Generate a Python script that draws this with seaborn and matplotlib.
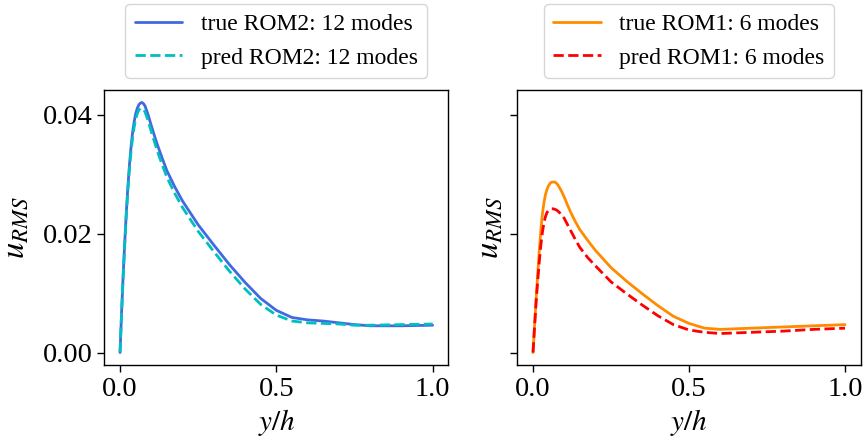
import numpy as np
import pandas as pd
import matplotlib
matplotlib.use("Agg")
import matplotlib.pyplot as plt
import seaborn as sns

# ---- data ----
y_h = [0, 0.005, 0.01, 0.015, 0.02, 0.025, 0.03, 0.035, 0.04, 0.045, 0.05,
       0.055, 0.06, 0.065, 0.07, 0.075, 0.08, 0.09, 0.10, 0.11, 0.12, 0.135,
       0.15, 0.175, 0.20, 0.25, 0.30, 0.35, 0.40, 0.45, 0.50, 0.55, 0.60,
       0.65, 0.70, 0.75, 0.80, 0.90, 1.00]

true_rom2 = [0, .0068, .0130, .0185, .0235, .0278, .0315, .0345, .0370, .0388,
             .0402, .0411, .0417, .0420, .0421, .0419, .0415, .0400, .0382,
             .0365, .0349, .0327, .0306, .0279, .0255, .0215, .0181, .0148,
             .0118, .0091, .0071, .0059, .0055, .0053, .0050, .0047, .0045,
             .0045, .0046]
pred_rom2 = [0, .0067, .0128, .0182, .0231, .0273, .0309, .0338, .0361, .0379,
             .0393, .0402, .0408, .0411, .0411, .0409, .0405, .0390, .0372,
             .0355, .0338, .0316, .0295, .0268, .0244, .0204, .0170, .0137,
             .0107, .0081, .0063, .0053, .0050, .0049, .0048, .0046, .0046,
             .0047, .0048]

true_rom1 = [0, .0046, .0090, .0132, .0170, .0205, .0233, .0252, .0266, .0275,
             .0281, .0285, .0287, .0287, .0287, .0285, .0282, .0273, .0262,
             .0249, .0237, .0221, .0207, .0189, .0172, .0143, .0120, .0099,
             .0079, .0061, .0049, .0041, .0039, .0040, .0041, .0042, .0043,
             .0045, .0047]
pred_rom1 = [0, .0043, .0085, .0120, .0152, .0180, .0202, .0218, .0229, .0236,
             .0239, .0241, .0242, .0242, .0241, .0240, .0238, .0233, .0226,
             .0216, .0206, .0191, .0177, .0160, .0146, .0119, .0099, .0080,
             .0062, .0047, .0038, .0034, .0032, .0033, .0034, .0035, .0036,
             .0039, .0041]

labels_left = ["true ROM2: 12 modes", "pred ROM2: 12 modes"]
labels_right = ["true ROM1: 6 modes", "pred ROM1: 6 modes"]
xticks = [0.0, 0.5, 1.0]
yticks = [0.00, 0.02, 0.04]

# ---- style ----
sns.set_theme(style="ticks", color_codes=False)
plt.rcParams["font.family"] = ["Liberation Serif", "DejaVu Serif"]
plt.rcParams["mathtext.fontset"] = "stix"
plt.rcParams["font.size"] = 20
plt.rcParams["text.color"] = "black"
plt.rcParams["axes.labelcolor"] = "black"
plt.rcParams["xtick.color"] = "black"
plt.rcParams["ytick.color"] = "black"
plt.rcParams["axes.edgecolor"] = "black"
plt.rcParams["axes.linewidth"] = 1.0

W, H = 866, 444
L1, R1, L2, R2, TOP, BOT = 104.4, 448.3, 517.4, 860.6, 90, 365
fig = plt.figure(figsize=(W / 100, H / 100), dpi=100)
ax1 = fig.add_axes([L1 / W, (H - BOT) / H, (R1 - L1) / W, (BOT - TOP) / H])
ax2 = fig.add_axes([L2 / W, (H - BOT) / H, (R2 - L2) / W, (BOT - TOP) / H], sharey=ax1)

df_l = pd.DataFrame({"y_h": y_h, "true": true_rom2, "pred": pred_rom2})
df_r = pd.DataFrame({"y_h": y_h, "true": true_rom1, "pred": pred_rom1})

sns.lineplot(data=df_l, x="y_h", y="true", ax=ax1, color="#4169E1", lw=2,
             label=labels_left[0])
sns.lineplot(data=df_l, x="y_h", y="pred", ax=ax1, color="#00BFBF", lw=2,
             linestyle="--", label=labels_left[1])
sns.lineplot(data=df_r, x="y_h", y="true", ax=ax2, color="#FF8C00", lw=2,
             label=labels_right[0])
sns.lineplot(data=df_r, x="y_h", y="pred", ax=ax2, color="#FF0000", lw=2,
             linestyle="--", label=labels_right[1])

for ax in (ax1, ax2):
    ax.set_xticks(xticks)
    ax.set_xticklabels([f"{t:.1f}" for t in xticks])
    ax.set_xlabel("$y/h$", fontsize=21)
    ax.set_ylabel("$u_{RMS}$", fontsize=23.5)
    ax.tick_params(labelsize=20.5, length=5, width=1, color="black",
                   labelcolor="black")
    for s in ax.spines.values():
        s.set_visible(True)
        s.set_color("black")
    leg = ax.legend(loc="lower center", bbox_to_anchor=(0.5, 1.0), fontsize=17,
                    frameon=True)
    for t in leg.get_texts():
        t.set_color("black")

ax1.set_yticks(yticks)
ax1.set_yticklabels([f"{t:.2f}" for t in yticks])
ax1.set_ylim(-0.0021, 0.0442)
ax2.tick_params(labelleft=False)
ax1.set_xlim(-0.05, 1.05)
ax2.set_xlim(-0.05, 1.05)
# label right edge (baseline side) positions in pixels
ax1.yaxis.set_label_coords(-(L1 - 31) / (R1 - L1), 0.5)
ax2.yaxis.set_label_coords(-(L2 - 505) / (R2 - L2), 0.5)

fig.savefig("out.png", dpi=100)
